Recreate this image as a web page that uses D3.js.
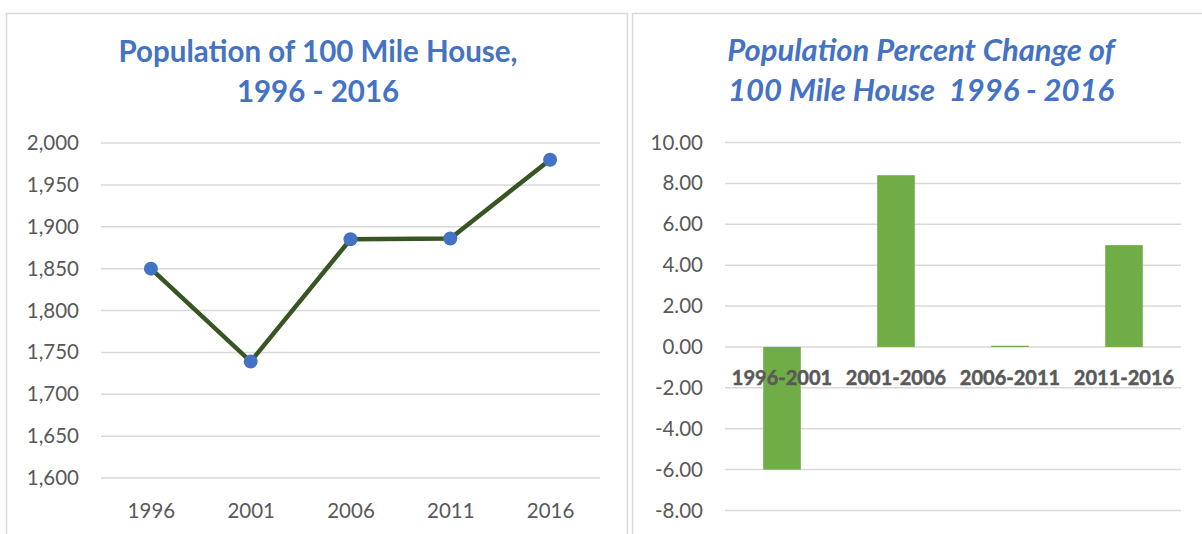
<!DOCTYPE html>
<meta charset="utf-8">
<style>
    body { margin: 0; background: #fff; }
    text { font-family: Lato, "Open Sans", sans-serif; }
    .grid line { stroke: #d9d9d9; stroke-width: 1.5px; }
    .tick text { fill: #595959; font-size: 20.5px; }
    .title { fill: #4472c4; font-weight: bold; font-size: 29.5px; }
</style>
<svg id="chart" width="1202" height="534"></svg>
<script src="https://d3js.org/d3.v7.min.js"></script>
<script>

    // population by census year
    var years = ["1996", "2001", "2006", "2011", "2016"];
    var population = [1850, 1739, 1885, 1886, 1980];
    var popTicks = [1600, 1650, 1700, 1750, 1800, 1850, 1900, 1950, 2000];

    // percent change between censuses
    var periods = ["1996-2001", "2001-2006", "2006-2011", "2011-2016"];
    var pctChange = [-6.00, 8.40, 0.06, 4.98];
    var pctTicks = [-8, -6, -4, -2, 0, 2, 4, 6, 8, 10];

    var svg = d3.select("#chart");

    // panel frames
    svg.append("rect")
        .attr("x", 6.5).attr("y", 13.5)
        .attr("width", 621).attr("height", 540)
        .attr("fill", "none").attr("stroke", "#d9d9d9").attr("stroke-width", 1.5);
    svg.append("rect")
        .attr("x", 632.5).attr("y", 13.5)
        .attr("width", 600).attr("height", 540)
        .attr("fill", "none").attr("stroke", "#d9d9d9").attr("stroke-width", 1.5);

    // ---- left: line chart ----
    var left = svg.append("g");

    left.append("text").attr("class", "title")
        .attr("text-anchor", "middle")
        .selectAll("tspan")
        .data(["Population of 100 Mile House,", "1996 - 2016"])
        .enter().append("tspan")
        .attr("x", 318)
        .attr("y", function(d, i) { return 62 + i * 40; })
        .text(function(d) { return d; });

    var x1 = d3.scalePoint().domain(years).range([101, 600]).padding(0.5);
    var y1 = d3.scaleLinear().domain([1600, 2000]).range([478, 143]);

    left.append("g").attr("class", "grid")
        .selectAll("line").data(popTicks).enter().append("line")
        .attr("x1", 101).attr("x2", 600)
        .attr("y1", function(d) { return y1(d); })
        .attr("y2", function(d) { return y1(d); });

    var yAxis1 = left.append("g")
        .attr("transform", "translate(86,0)")
        .call(d3.axisLeft(y1).tickValues(popTicks).tickFormat(d3.format(",")).tickSize(0).tickPadding(7));
    yAxis1.select(".domain").remove();

    var xAxis1 = left.append("g")
        .attr("transform", "translate(0,497)")
        .call(d3.axisBottom(x1).tickSize(0).tickPadding(6));
    xAxis1.select(".domain").remove();

    var line = d3.line()
        .x(function(d, i) { return x1(years[i]); })
        .y(function(d) { return y1(d); });

    left.append("path")
        .datum(population)
        .attr("d", line)
        .attr("fill", "none")
        .attr("stroke", "#375623")
        .attr("stroke-width", 4.5);

    left.selectAll("circle")
        .data(population)
        .enter().append("circle")
        .attr("cx", function(d, i) { return x1(years[i]); })
        .attr("cy", function(d) { return y1(d); })
        .attr("r", 7)
        .attr("fill", "#4472c4");

    // ---- right: bar chart ----
    var right = svg.append("g");

    right.append("text").attr("class", "title")
        .attr("text-anchor", "middle")
        .style("font-style", "italic")
        .style("font-size", "31px")
        .selectAll("tspan")
        .data(["Population Percent Change of", "100 Mile House  1996 - 2016"])
        .enter().append("tspan")
        .attr("x", 921)
        .attr("y", function(d, i) { return 61 + i * 40; })
        .attr("xml:space", "preserve")
        .style("white-space", "pre")
        .text(function(d) { return d; });

    var x2 = d3.scaleBand().domain(periods).range([725, 1181])
        .paddingInner(0.67).paddingOuter(0.335);
    var y2 = d3.scaleLinear().domain([-8, 10]).range([510.5, 142.5]);

    right.append("g").attr("class", "grid")
        .selectAll("line").data(pctTicks).enter().append("line")
        .attr("x1", 725).attr("x2", 1181)
        .attr("y1", function(d) { return y2(d); })
        .attr("y2", function(d) { return y2(d); });

    var yAxis2 = right.append("g")
        .attr("transform", "translate(710,0)")
        .call(d3.axisLeft(y2).tickValues(pctTicks).tickFormat(d3.format(".2f")).tickSize(0).tickPadding(7));
    yAxis2.select(".domain").remove();
    yAxis2.selectAll("text").text(function(d) { return d < 0 ? "-" + d3.format(".2f")(-d) : d3.format(".2f")(d); });

    right.selectAll("rect.bar")
        .data(pctChange)
        .enter().append("rect")
        .attr("class", "bar")
        .attr("x", function(d, i) { return x2(periods[i]); })
        .attr("width", x2.bandwidth())
        .attr("y", function(d) { return y2(Math.max(0, d)); })
        .attr("height", function(d) { return Math.abs(y2(d) - y2(0)); })
        .attr("fill", "#70ad47");

    right.append("g")
        .selectAll("text")
        .data(periods)
        .enter().append("text")
        .attr("x", function(d) { return x2(d) + x2.bandwidth() / 2; })
        .attr("y", 385)
        .attr("text-anchor", "middle")
        .attr("fill", "#595959")
        .attr("stroke", "#595959")
        .attr("stroke-width", 0.5)
        .style("font-weight", "bold")
        .style("font-size", "20px")
        .text(function(d) { return d; });

</script>
